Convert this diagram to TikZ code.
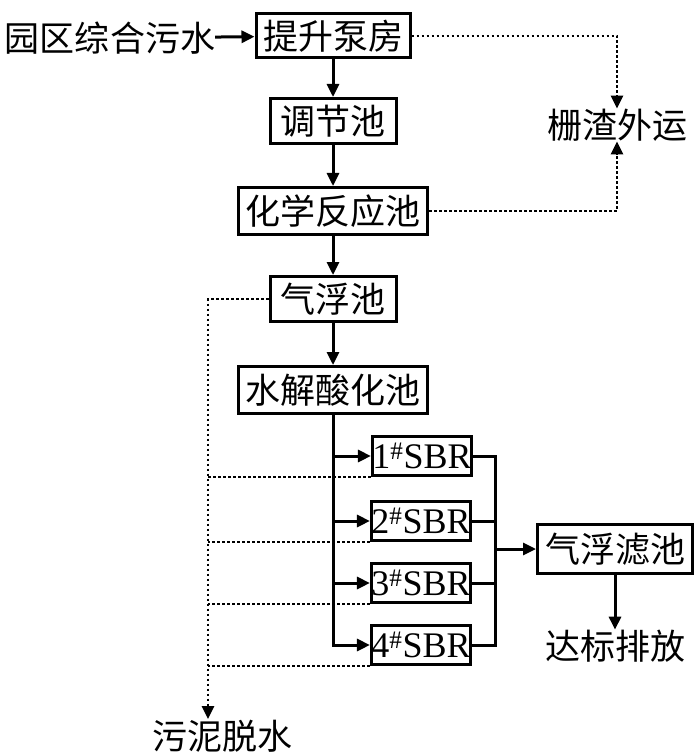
\documentclass[tikz,border=0pt]{standalone}
\usepackage{fontspec}
\setmainfont{Liberation Serif}
\newfontfamily\cjk{Noto Sans CJK SC}
\usetikzlibrary{arrows.meta}
\begin{document}
\begin{tikzpicture}[x=1pt,y=-1pt,
  box/.style={draw,line width=3pt,inner sep=0pt,font=\cjk\fontsize{35}{35}\selectfont},
  sbr/.style={draw,line width=3pt,inner sep=0pt,minimum width=99pt,minimum height=39pt,font=\fontsize{36}{36}\selectfont},
  lbl/.style={inner sep=0pt,font=\cjk\fontsize{35}{35}\selectfont},
  flow/.style={line width=3pt,-{Triangle[length=13pt,width=12pt]}},
  plain/.style={line width=3pt},
  dots/.style={line width=2.8pt,dash pattern=on 2.8pt off 2.2pt},
  dotarrow/.style={dots,-{Triangle[length=13pt,width=12pt]}}]
\useasboundingbox (0,0) rectangle (700,754);

\node[lbl] (src) at (110,38) {园区综合污水};
\node[box,minimum width=154pt,minimum height=44pt] (pump) at (333,36) {提升泵房};
\node[box,minimum width=126pt,minimum height=45pt] (adj) at (333,121) {调节池};
\node[box,minimum width=189pt,minimum height=47pt] (chem) at (333,211) {化学反应池};
\node[box,minimum width=126pt,minimum height=45pt] (flot) at (333,299) {气浮池};
\node[box,minimum width=189pt,minimum height=47pt] (hydro) at (333,390) {水解酸化池};
\node[sbr] (sbr1) at (422,456) {1\textsuperscript{\#}SBR};
\node[sbr] (sbr2) at (421,521) {2\textsuperscript{\#}SBR};
\node[sbr] (sbr3) at (421,583) {3\textsuperscript{\#}SBR};
\node[sbr] (sbr4) at (421,645) {4\textsuperscript{\#}SBR};
\node[box,minimum width=155pt,minimum height=49pt] (filt) at (615,549) {气浮滤池};
\node[lbl] (out) at (615,646) {达标排放};
\node[lbl] (slag) at (617,125) {栅渣外运};
\node[lbl] (sludge) at (222,736) {污泥脱水};

\coordinate (col) at (495,456);
\coordinate (sx) at (208,719);

\draw[flow] (src) -- (pump);
\draw[flow] (pump) -- (adj);
\draw[flow] (adj) -- (chem);
\draw[flow] (chem) -- (flot);
\draw[flow] (flot) -- (hydro);

\draw[flow] (hydro.south) |- (sbr4.west);
\foreach \i in {1,2,3}{\draw[flow] (hydro.south |- sbr\i.west) -- (sbr\i.west);}

\draw[plain] (sbr1.east) -| (col |- sbr4.east) -- (sbr4.east);
\draw[plain] (sbr2.east) -- (sbr2.east -| col);
\draw[plain] (sbr3.east) -- (sbr3.east -| col);
\draw[flow] (col |- filt.west) -- (filt.west);
\draw[flow] (filt) -- (out);

\draw[dotarrow] (pump.east) -| (slag.north);
\draw[dotarrow] (chem.east) -| (slag.south);
\draw[dotarrow] (flot.west) -| (sx);
\foreach \i in {1,2,3,4}{\draw[dots] (sbr\i.south west) -- (sbr\i.south west -| sx);}
\end{tikzpicture}
\end{document}
